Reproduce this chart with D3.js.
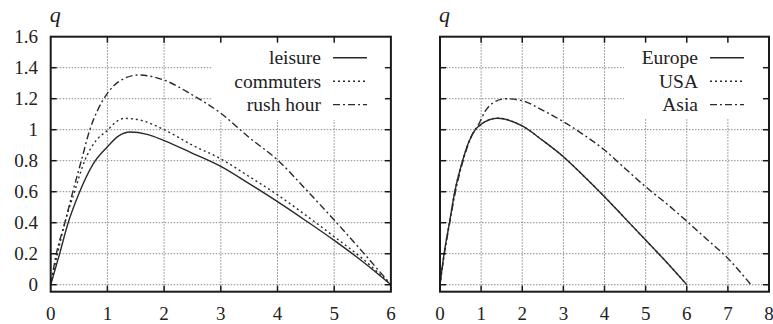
<!DOCTYPE html>
<html><head><meta charset="utf-8">
<script src="https://cdn.jsdelivr.net/npm/d3@7"></script>
<style>
html,body{margin:0;padding:0;background:#fff;}
svg{display:block;}
</style></head>
<body>
<svg id="c" width="773" height="324"></svg>
<script>
// ---- data ----
const yTicks = [0, 0.2, 0.4, 0.6, 0.8, 1, 1.2, 1.4, 1.6];
const yTickLabels = ["0", "0.2", "0.4", "0.6", "0.8", "1", "1.2", "1.4", "1.6"];
const xTicksLeft = [0, 1, 2, 3, 4, 5, 6];
const xTicksRight = [0, 1, 2, 3, 4, 5, 6, 7, 8];

const leftNames = ["leisure", "commuters", "rush hour"];
const leisure = [[0,0],[0.15,0.19],[0.3,0.39],[0.5,0.59],[0.75,0.78],[1,0.89],[1.2,0.96],[1.4,0.985],[1.7,0.97],[2,0.93],[2.5,0.848],[3,0.763],[3.5,0.652],[4,0.536],[4.5,0.413],[5,0.286],[5.5,0.15],[6,0]];
const commuters = [[0,0],[0.12,0.2],[0.25,0.4],[0.42,0.6],[0.6,0.8],[0.8,0.93],[1,0.995],[1.15,1.05],[1.3,1.073],[1.6,1.06],[2,1.0],[2.5,0.9],[3,0.812],[3.5,0.698],[4,0.58],[4.5,0.448],[5,0.31],[5.5,0.168],[6,0]];
const rushHour = [[0,0],[0.1,0.2],[0.25,0.4],[0.39,0.6],[0.54,0.8],[0.69,1.0],[0.82,1.12],[1,1.235],[1.2,1.31],[1.55,1.353],[2,1.32],[2.5,1.224],[3,1.106],[3.5,0.95],[4,0.805],[4.5,0.615],[5,0.417],[5.5,0.212],[6,0]];

const rightNames = ["Europe", "USA", "Asia"];
const europe = [[0,0],[0.1,0.2],[0.23,0.4],[0.36,0.6],[0.55,0.8],[0.7,0.92],[0.86,1.0],[1,1.035],[1.4,1.074],[2,1.024],[2.5,0.93],[3,0.826],[3.5,0.7],[4,0.568],[4.5,0.428],[5,0.288],[5.5,0.148],[6,0]];
const usa = [[0,0],[0.1,0.2],[0.23,0.4],[0.36,0.6],[0.55,0.8],[0.7,0.92],[0.86,1.0],[1,1.035],[1.4,1.074],[2,1.024],[2.5,0.93],[3,0.826],[3.5,0.7],[4,0.568],[4.5,0.428],[5,0.288],[5.5,0.148],[6,0]];
const asia = [[0,0],[0.1,0.19],[0.23,0.39],[0.36,0.58],[0.55,0.79],[0.75,0.95],[0.95,1.04],[1.1,1.12],[1.3,1.175],[1.6,1.2],[2,1.187],[2.5,1.125],[3,1.052],[3.5,0.966],[4,0.869],[4.5,0.75],[5,0.632],[5.5,0.525],[6,0.41],[6.5,0.29],[7,0.17],[7.56,0]];

// ---- styles ----
const dashes = [null, "2,3", "7,3,2,3"];
const FONT = "Liberation Serif";

const svg = d3.select("#c");
const FS = 19;

function txt(sel, size) {
  return sel.attr("font-size", size).attr("fill", "#222")
    .style("font-size", size + "px").style("font-family", FONT);
}

function panel(cfg) {
  const x = d3.scaleLinear().domain(cfg.xDomain).range(cfg.xRange);
  const y = d3.scaleLinear().domain([-0.045, 1.6]).range([291.7, 36.7]);
  const [x0, x1] = cfg.xRange;
  const [yb, yt] = y.range();
  const g = svg.append("g");
  const clipId = "clip" + cfg.id;
  svg.append("clipPath").attr("id", clipId).append("rect")
    .attr("x", x0).attr("y", yt).attr("width", x1 - x0).attr("height", yb - yt);

  // grid
  const grid = g.append("g").attr("stroke", "#8a8a8a").attr("stroke-width", 1).attr("stroke-dasharray", "1.5,1.5");
  grid.selectAll(".gy").data(yTicks.filter(v => v < 1.6)).join("line")
    .attr("x1", x0).attr("x2", x1).attr("y1", d => y(d)).attr("y2", d => y(d));
  grid.selectAll(".gx").data(cfg.xTicks.filter(v => v > cfg.xDomain[0] && v < cfg.xDomain[1])).join("line")
    .attr("x1", d => x(d)).attr("x2", d => x(d)).attr("y1", yb).attr("y2", yt);

  // legend box (opaque)
  g.append("rect").attr("x", cfg.keyBox[0]).attr("y", yt).attr("width", x1 - cfg.keyBox[0]).attr("height", cfg.keyBox[1] - yt).attr("fill", "#fff");

  // curves
  const line = d3.line().x(d => x(d[0])).y(d => y(d[1])).curve(d3.curveMonotoneX);
  const cg = g.append("g").attr("clip-path", `url(#${clipId})`);
  cfg.series.forEach((s, i) => {
    cg.append("path").datum(s).attr("d", line).attr("fill", "none")
      .attr("stroke", "#2a2a2a").attr("stroke-width", 1.4)
      .attr("stroke-dasharray", dashes[i]);
  });

  // frame
  g.append("rect").attr("x", x0).attr("y", yt).attr("width", x1 - x0).attr("height", yb - yt)
    .attr("fill", "none").attr("stroke", "#1a1a1a").attr("stroke-width", 2);

  // tick marks (inward, mirrored)
  const tk = g.append("g").attr("stroke", "#1a1a1a").attr("stroke-width", 1.5);
  const tl = 6;
  yTicks.filter(v => v < 1.6).forEach(v => {
    tk.append("line").attr("x1", x0).attr("x2", x0 + tl).attr("y1", y(v)).attr("y2", y(v));
    tk.append("line").attr("x1", x1).attr("x2", x1 - tl).attr("y1", y(v)).attr("y2", y(v));
  });
  cfg.xTicks.filter(v => v > cfg.xDomain[0] && v < cfg.xDomain[1]).forEach(v => {
    tk.append("line").attr("x1", x(v)).attr("x2", x(v)).attr("y1", yb).attr("y2", yb - tl);
    tk.append("line").attr("x1", x(v)).attr("x2", x(v)).attr("y1", yt).attr("y2", yt + tl);
  });

  // x tick labels
  txt(g.selectAll(".xl").data(cfg.xTicks).join("text")
    .attr("x", d => x(d)).attr("y", 320).attr("text-anchor", "middle").text(d => d), FS);

  // y tick labels
  if (cfg.yLabels) {
    txt(g.selectAll(".yl").data(yTicks).join("text")
      .attr("x", 38).attr("y", d => y(d)).attr("dy", "0.34em").attr("text-anchor", "end")
      .text((d, i) => yTickLabels[i]), FS);
  }

  // q label
  txt(g.append("text").attr("x", x0 - 1).attr("y", 22)
    .attr("font-style", "italic").style("font-style", "italic").text("q"), 22);

  // legend
  cfg.names.forEach((n, i) => {
    const by = 64.3 + i * 23.4;
    txt(g.append("text").attr("x", cfg.keyText).attr("y", by).attr("text-anchor", "end").text(n), 19.5);
    g.append("line").attr("x1", cfg.keyText + 12).attr("x2", cfg.keyText + 46)
      .attr("y1", by - 6.5).attr("y2", by - 6.5)
      .attr("stroke", "#2a2a2a").attr("stroke-width", 1.4).attr("stroke-dasharray", dashes[i]);
  });
}

panel({ id: "L", xDomain: [0, 6], xRange: [50.7, 390.9], xTicks: xTicksLeft, yLabels: true,
  series: [leisure, commuters, rushHour], names: leftNames, keyBox: [212, 120], keyText: 321 });
panel({ id: "R", xDomain: [0, 8], xRange: [440, 769], xTicks: xTicksRight, yLabels: false,
  series: [europe, usa, asia], names: rightNames, keyBox: [624, 119], keyText: 698 });
</script>
</body></html>
